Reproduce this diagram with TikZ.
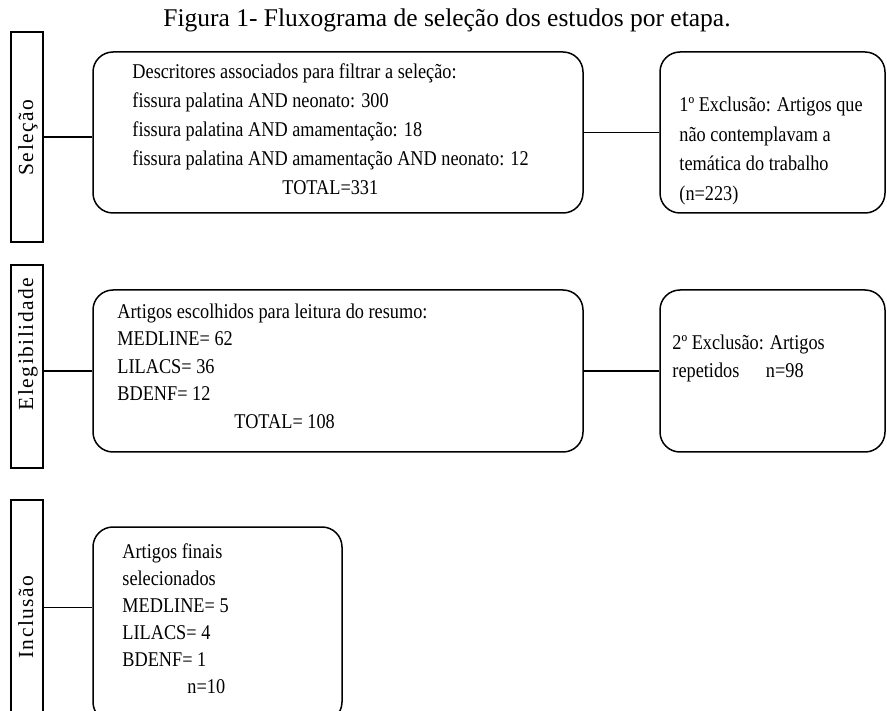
\documentclass[tikz,border=0pt]{standalone}
\usepackage{fontspec}
\usepackage{tikz}
\usetikzlibrary{positioning,calc}
\setmainfont{Liberation Serif}
\newfontfamily\boxfont[FakeStretch=0.87]{Liberation Serif}
\newfontfamily\stagefont[LetterSpace=7]{Liberation Serif}

\tikzset{
  stagebox/.style={draw,line width=1.6pt,minimum width=32pt,inner sep=0pt},
  stagelabel/.style={rotate=90,anchor=base,inner sep=0pt,font=\stagefont\fontsize{21.5}{25}\selectfont},
  roundbox/.style={draw,line width=1.5pt,rounded corners=20pt,inner sep=0pt},
  boxtext/.style={anchor=north west,inner sep=0pt,align=left,font=\boxfont\fontsize{21}{#1}\selectfont},
  boxtext/.default=29,
  link/.style={line width=1.5pt}
}

\begin{document}
\begin{tikzpicture}[x=1pt,y=-1pt]
\useasboundingbox (0,0) rectangle (887,711);
\node[anchor=base,inner sep=0pt,font=\fontsize{25.5}{30}\selectfont] (titulo) at (447,27) {Figura 1- Fluxograma de seleção dos estudos por etapa.};

% etapas
\node[stagebox,minimum height=210pt] (sel) at (27,137) {};
\node[stagebox,minimum height=203pt] (elig) at (27,366.5) {};
\node[stagebox,minimum height=215pt] (incl) at (27,607.5) {};
\node[stagelabel] (selTxt) at (33,137.5) {Seleção};
\node[stagelabel] (eligTxt) at (33,344) {Elegibilidade};
\node[stagelabel] (inclTxt) at (33,617) {Inclusão};

% caixas
\node[roundbox,minimum width=490pt,minimum height=161pt] (busca) at (338,132.5) {};
\node[roundbox,minimum width=225pt,minimum height=161pt] (excl1) at (772.5,132.5) {};
\node[roundbox,minimum width=490pt,minimum height=162pt] (resumo) at (338,371) {};
\node[roundbox,minimum width=225pt,minimum height=162pt] (excl2) at (772.5,371) {};
\node[roundbox,minimum width=249pt,minimum height=195pt] (final) at (217.5,624.5) {};

% textos
\node[boxtext] (buscaTxt) at ([shift={(40,12)}]busca.north west) {Descritores associados para filtrar a seleção:\\
fissura palatina AND neonato: 300\\
fissura palatina AND amamentação: 18\\
fissura palatina AND amamentação AND neonato: 12\\
\hspace*{150pt}TOTAL=331};
\node[boxtext=29.5] (excl1Txt) at ([shift={(20,45.5)}]excl1.north west) {1º Exclusão: Artigos que\\
não contemplavam a\\
temática do trabalho\\
(n=223)};
\node[boxtext=27.5] (resumoTxt) at ([shift={(25,14)}]resumo.north west) {Artigos escolhidos para leitura do resumo:\\
MEDLINE= 62\\
LILACS= 36\\
BDENF= 12\\
\hspace*{117pt}TOTAL= 108};
\node[boxtext=28] (excl2Txt) at ([shift={(13,45.5)}]excl2.north west) {2º Exclusão: Artigos\\
repetidos\hspace{22pt} n=98};
\node[boxtext=27] (finalTxt) at ([shift={(30,17)}]final.north west) {Artigos finais\\
selecionados\\
MEDLINE= 5\\
LILACS= 4\\
BDENF= 1\\
\hspace*{65pt}n=10};

% ligacoes
\draw[link] (sel.east) -- (sel.east -| busca.west);
\draw[link] (busca.east) -- (excl1.west);
\draw[link] (resumo.west -| elig.east) -- (resumo.west);
\draw[link] (resumo.east) -- (excl2.west);
\draw[link] (incl.east) -- (incl.east -| final.west);
\end{tikzpicture}
\end{document}
